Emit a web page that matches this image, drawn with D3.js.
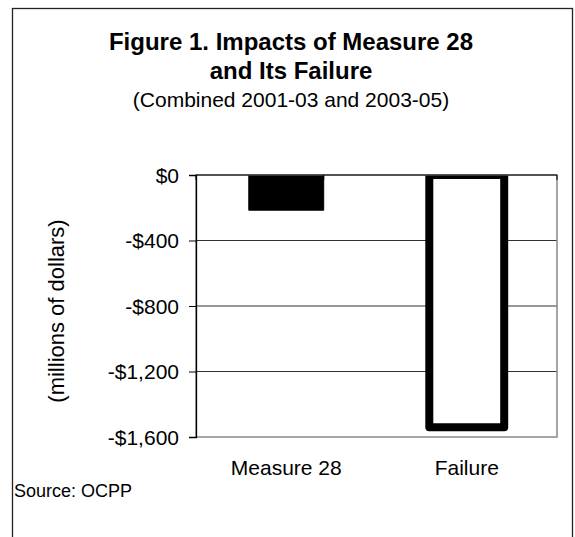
<!DOCTYPE html>
<html>
<head>
<meta charset="utf-8">
<script src="https://cdn.jsdelivr.net/npm/d3@7"></script>
<style>
  html, body { margin: 0; padding: 0; background: #fff; }
  svg { display: block; }
  text { font-family: "Liberation Sans", Arial, sans-serif; fill: #000; }
</style>
</head>
<body>
<svg id="chart" width="575" height="537"></svg>
<script>
const categories = ["Measure 28", "Failure"];
const values = [-215, -1540];
const yTicks = [0, -400, -800, -1200, -1600];
const titleLines = ["Figure 1. Impacts of Measure 28", "and Its Failure"];
const subtitle = "(Combined 2001-03 and 2003-05)";
const yTitle = "(millions of dollars)";
const source = "Source: OCPP";

const svg = d3.select("#chart");
const plot = { left: 196, top: 175, right: 557, bottom: 437 };

// outer frame
svg.append("rect")
  .attr("x", 12.5).attr("y", 8.5)
  .attr("width", 560).attr("height", 600)
  .attr("fill", "none").attr("stroke", "#222").attr("stroke-width", 1.3);

// titles
const cx = 291;
svg.append("text").attr("x", cx).attr("y", 50).attr("text-anchor", "middle")
  .attr("font-size", 24).attr("font-weight", "bold").text(titleLines[0]);
svg.append("text").attr("x", cx).attr("y", 79).attr("text-anchor", "middle")
  .attr("font-size", 24).attr("font-weight", "bold").text(titleLines[1]);
svg.append("text").attr("x", cx).attr("y", 107).attr("text-anchor", "middle")
  .attr("font-size", 21).text(subtitle);

const y = d3.scaleLinear().domain([-1600, 0]).range([plot.bottom, plot.top]);
const x = d3.scaleBand().domain(categories).range([plot.left, plot.right])
  .paddingInner(0.585).paddingOuter(0.2925);

// gridlines
svg.append("g").selectAll("line")
  .data(yTicks.filter(d => d !== 0 && d !== -1600))
  .join("line")
  .attr("x1", plot.left).attr("x2", plot.right)
  .attr("y1", d => y(d)).attr("y2", d => y(d))
  .attr("stroke", "#333").attr("stroke-width", 1);

// clip
svg.append("clipPath").attr("id", "plotclip").append("rect")
  .attr("x", plot.left).attr("y", plot.top)
  .attr("width", plot.right - plot.left).attr("height", plot.bottom - plot.top);

const data = categories.map((c, i) => ({ c, v: values[i] }));
const bars = svg.append("g").attr("clip-path", "url(#plotclip)");
bars.selectAll("rect")
  .data(data)
  .join("rect")
  .attr("x", d => x(d.c))
  .attr("width", x.bandwidth())
  .attr("y", d => y(Math.max(0, d.v)))
  .attr("height", d => Math.abs(y(d.v) - y(0)))
  .attr("fill", (d, i) => i === 0 ? "#000" : "#fff")
  .attr("stroke", "#000")
  .attr("stroke-width", (d, i) => i === 0 ? 1 : 8)
  .attr("stroke-linejoin", "round");

// plot border
svg.append("rect")
  .attr("x", plot.left).attr("y", plot.top)
  .attr("width", plot.right - plot.left).attr("height", plot.bottom - plot.top)
  .attr("fill", "none").attr("stroke", "#888").attr("stroke-width", 1.5);

// y axis
const yAxis = d3.axisLeft(y)
  .tickValues(yTicks)
  .tickFormat(d => d === 0 ? "$0" : "-$" + d3.format(",")(-d))
  .tickSize(7).tickPadding(10);
const yg = svg.append("g").attr("transform", `translate(${plot.left},0)`).call(yAxis);
yg.select(".domain").attr("stroke", "#000").attr("stroke-width", 1.3);
yg.selectAll(".tick line").attr("stroke", "#000");
yg.selectAll(".tick text").attr("font-size", 21)
  .attr("font-family", "Liberation Sans, Arial, sans-serif").attr("dy", "0.34em");

// category axis at zero (top)
svg.append("line")
  .attr("x1", plot.left).attr("x2", plot.right)
  .attr("y1", y(0)).attr("y2", y(0))
  .attr("stroke", "#000").attr("stroke-width", 1);
const bounds = [plot.left, ...categories.slice(1).map(c => x(c) - x.step() * x.paddingInner()), plot.right];
svg.append("g").selectAll("line")
  .data(bounds)
  .join("line")
  .attr("x1", d => d).attr("x2", d => d)
  .attr("y1", y(0)).attr("y2", y(0) + 5)
  .attr("stroke", "#000");

// category labels
svg.append("g").selectAll("text")
  .data(categories)
  .join("text")
  .attr("x", d => x(d) + x.bandwidth() / 2)
  .attr("y", 475)
  .attr("text-anchor", "middle")
  .attr("font-size", 21)
  .text(d => d);

// y title
svg.append("text")
  .attr("transform", `translate(64,${(plot.top + plot.bottom) / 2 + 5}) rotate(-90)`)
  .attr("text-anchor", "middle")
  .attr("font-size", 22)
  .text(yTitle);

// source
svg.append("text").attr("x", 14).attr("y", 497)
  .attr("font-size", 18).text(source);
</script>
</body>
</html>
